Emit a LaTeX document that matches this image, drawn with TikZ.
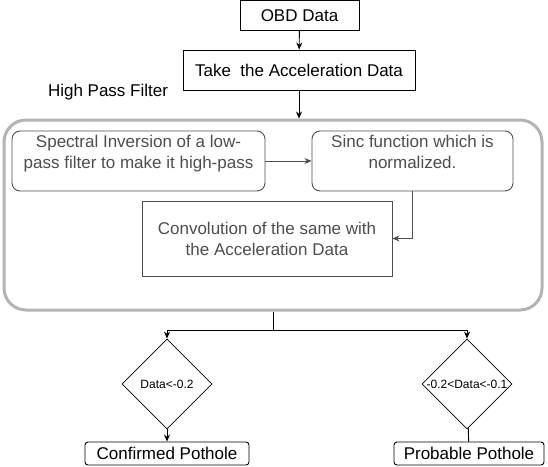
\documentclass[tikz,border=0pt]{standalone}
\usepackage{fontspec}
\setmainfont{Liberation Sans}
\usetikzlibrary{arrows.meta,shapes.geometric}
\definecolor{boxgray}{HTML}{4D4D4D}
\definecolor{framegray}{HTML}{B3B3B3}
\tikzset{
  stepbox/.style={draw,line width=0.9pt,inner sep=0pt,font=\fontsize{17}{20}\selectfont},
  filterbox/.style={draw=boxgray,text=boxgray,line width=0.9pt,inner sep=0pt,align=center,
    font=\fontsize{17}{21}\selectfont},
  decision/.style={draw,diamond,aspect=1,inner sep=0pt,line width=0.8pt,
    font=\fontsize{12}{14}\selectfont},
}
\begin{document}
\begin{tikzpicture}[>={Stealth[length=7pt,width=6pt]}]
    \def\x{1pt}
    \def\y{-1pt}
    \useasboundingbox (0,0) rectangle (548*\x,466*\y);
    \node[stepbox,minimum width=119pt,minimum height=30pt] (obd) at (299.5*\x,15.5*\y) {OBD Data};
    \node[stepbox,minimum width=232pt,minimum height=40pt] (take) at (299*\x,70*\y) {Take\ \ the Acceleration Data};
    \node[font=\fontsize{17}{20}\selectfont] (hpflabel) at (108*\x,92*\y) {High Pass Filter};
    \node[draw=framegray,line width=3pt,rounded corners=22pt,minimum width=538pt,minimum height=190pt] (hpf) at (273*\x,215*\y) {};
    \node[filterbox,rounded corners=8pt,minimum width=253pt,minimum height=60pt] (spec) at (138.5*\x,161*\y) {Spectral Inversion of a low-\\pass filter to make it high-pass\\[-3pt]};
    \node[filterbox,rounded corners=8pt,minimum width=201pt,minimum height=60pt] (sinc) at (412.5*\x,161*\y) {Sinc function which is\\normalized.\\[-3pt]};
    \node[filterbox,minimum width=250pt,minimum height=75pt] (conv) at (267*\x,238.5*\y) {Convolution of the same with\\the Acceleration Data};
    \node[decision,minimum size=90pt] (dl) at (167*\x,384*\y) {Data<-0.2};
    \node[decision,minimum size=90pt] (dr) at (467*\x,384*\y) {-0.2<Data<-0.1};
    \node[stepbox,rounded corners=3pt,minimum width=164pt,minimum height=23pt] (conf) at (167*\x,453.5*\y) {Confirmed Pothole};
    \node[stepbox,rounded corners=3pt,minimum width=150pt,minimum height=23pt] (prob) at (469*\x,453.5*\y) {Probable Pothole};
    \coordinate (split) at (273*\x,330*\y);
    \path (obd) edge [->,line width=0.9pt] (take);
    \path (take.south) edge [->,line width=0.9pt] (take.south |- hpf.north);
    \path (spec) edge [->,draw=boxgray,line width=0.9pt] (sinc);
    \draw[->,draw=boxgray,line width=0.9pt] (sinc.south) |- (conv.east);
    \draw[line width=0.9pt] (hpf.south) -- (split);
    \draw[->,line width=0.9pt] (split) -| (dl.north);
    \draw[->,line width=0.9pt] (split) -| (dr.north);
    \path (dl) edge [->,line width=0.9pt] (conf);
    \path (dr) edge [line width=0.9pt] (prob);
  \end{tikzpicture}
\end{document}
